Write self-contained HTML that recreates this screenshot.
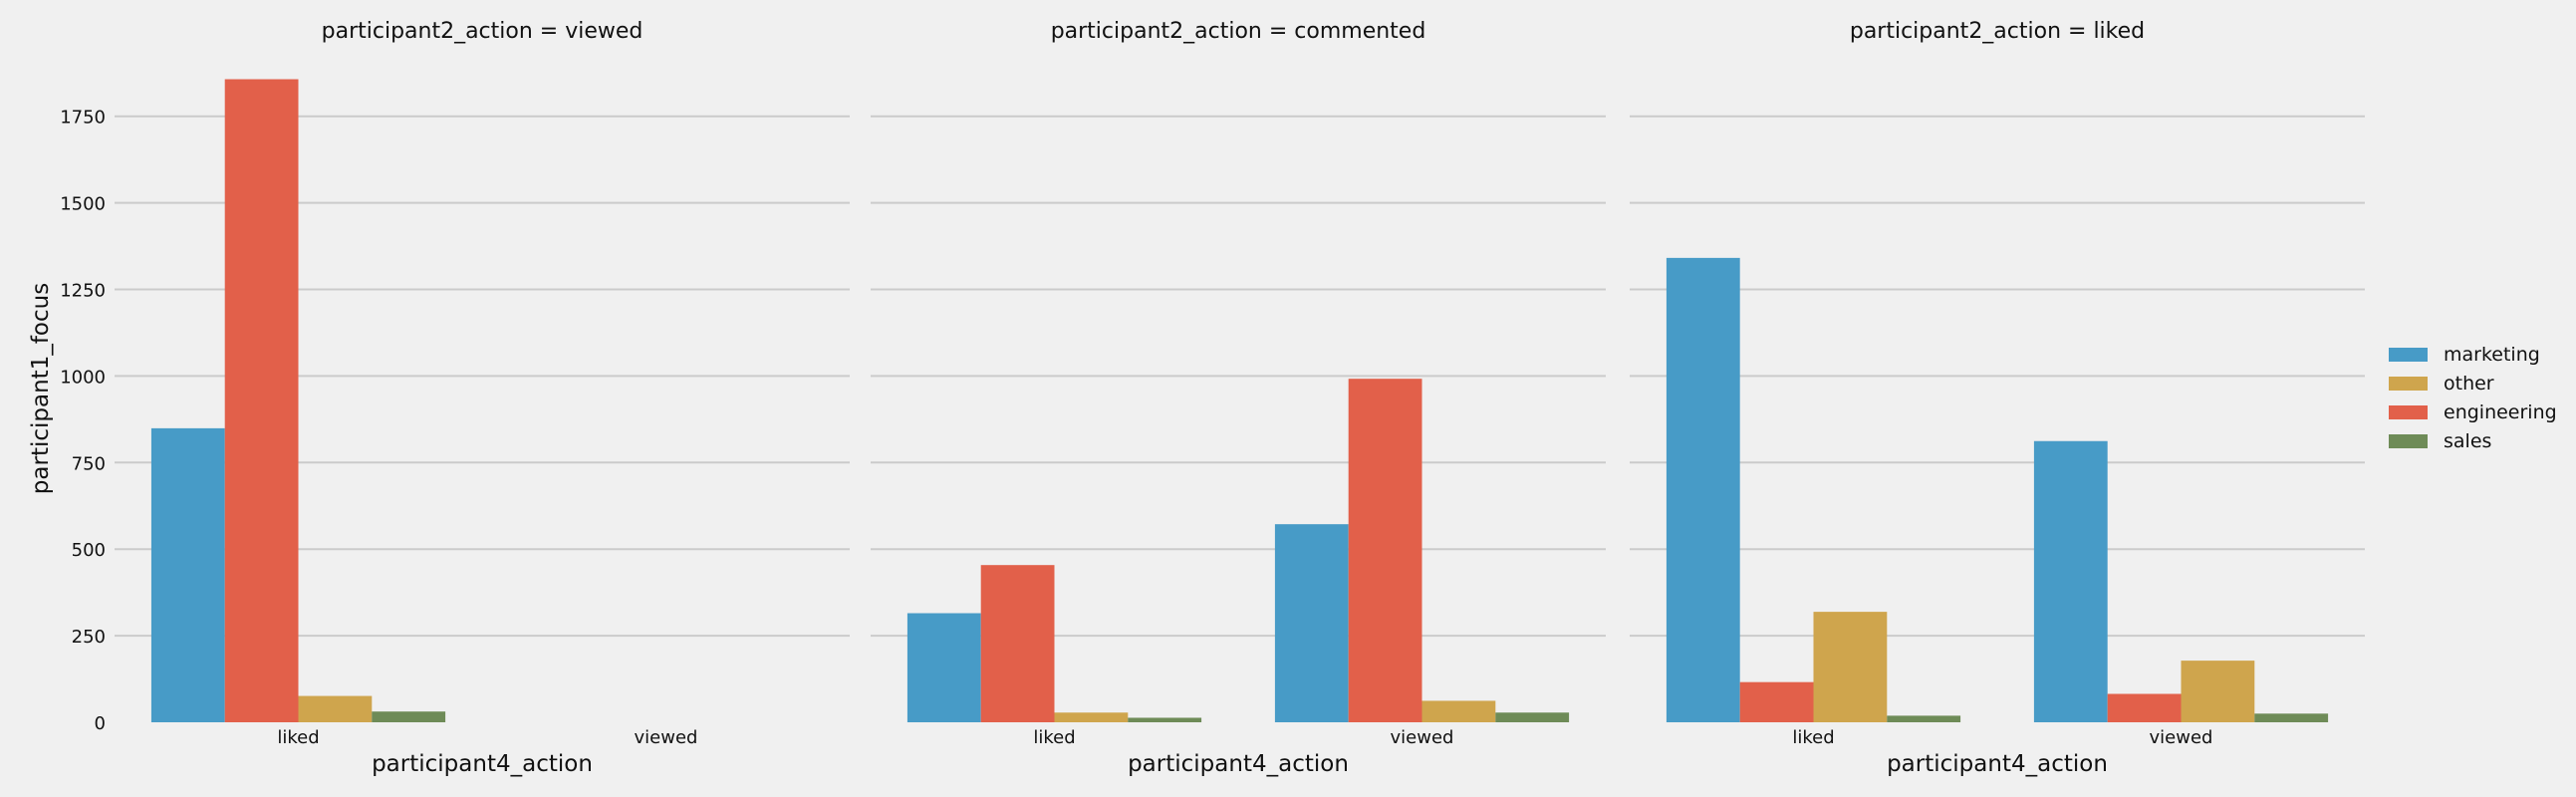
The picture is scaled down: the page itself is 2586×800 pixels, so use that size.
<!DOCTYPE html>
<html><head><meta charset="utf-8"><style>
html,body{margin:0;padding:0;background:#f0f0f0;}
svg{display:block;font-family:"DejaVu Sans","Liberation Sans",sans-serif;}
</style></head><body>
<svg id="chart" width="2586" height="800" viewBox="0 0 2586 800" xmlns="http://www.w3.org/2000/svg">
<rect x="0" y="0" width="2586" height="800" fill="#f0f0f0"/>
</svg>
<script>
const panelTitles = ["participant2_action = viewed","participant2_action = commented","participant2_action = liked"];
const categories = ["liked","viewed"];
const hues = ["marketing","engineering","other","sales"];
const legendOrder = ["marketing","other","engineering","sales"];
const yTicks = [0,250,500,750,1000,1250,1500,1750];
// values[panel][hue] per category
const viewedMarketing = [849, 0];
const viewedEngineering = [1857, 0];
const viewedOther = [76, 0];
const viewedSales = [31, 0];
const commentedMarketing = [315, 572];
const commentedEngineering = [454, 992];
const commentedOther = [28, 62];
const commentedSales = [13, 28];
const likedMarketing = [1341, 812];
const likedEngineering = [116, 82];
const likedOther = [319, 178];
const likedSales = [19, 25];

const panelData = [
  [viewedMarketing, viewedEngineering, viewedOther, viewedSales],
  [commentedMarketing, commentedEngineering, commentedOther, commentedSales],
  [likedMarketing, likedEngineering, likedOther, likedSales]
];
const colors = {marketing:"#479bc7", engineering:"#e2604a", other:"#cfa54d", sales:"#6e8b57"};
const NS = "http://www.w3.org/2000/svg";
const svg = document.getElementById("chart");
const panelLeft = [115, 874, 1636];
const panelW = 738;
const y0 = 725, pxPerUnit = 86.9/250;
function yScale(v){ return y0 - v*pxPerUnit; }
function mk(tag, attrs, text){
  const e = document.createElementNS(NS, tag);
  for (const k in attrs) e.setAttribute(k, attrs[k]);
  if (text !== undefined) e.textContent = text;
  svg.appendChild(e);
  return e;
}
panelTitles.forEach((title, p) => {
  const L = panelLeft[p];
  const catW = panelW / categories.length;
  yTicks.forEach(t => {
    if (t === 0) return;
    const g = mk("line", {x1:L, x2:L+panelW, y1:yScale(t), y2:yScale(t), stroke:"#cbcbcb", "stroke-width":2});
    
    
  });
  const tt = mk("text", {x:L+panelW/2, y:38, "text-anchor":"middle", "font-size":22, fill:"#111"}, title);
  
  
  categories.forEach((c, ci) => {
    const cx = L + catW*(ci+0.5);
    const groupW = catW*0.8;
    const bw = groupW / hues.length;
    hues.forEach((h, hi) => {
      const v = panelData[p][hi][ci];
      if (!v) return;
      const r = mk("rect", {x:cx - groupW/2 + hi*bw, y:yScale(v), width:bw, height:y0 - yScale(v), fill:colors[h]});
      
      
    });
    const tl = mk("text", {x:cx, y:746, "text-anchor":"middle", "font-size":18, fill:"#111"}, c);
    
    
  });
  const xl = mk("text", {x:L+panelW/2, y:774, "text-anchor":"middle", "font-size":23, fill:"#111"}, "participant4_action");
  
  
});
yTicks.forEach(t => {
  const l = mk("text", {x:106, y:yScale(t)+7, "text-anchor":"end", "font-size":18, fill:"#111"}, String(t));
  
  
});
const yl = mk("text", {x:0, y:0, transform:"translate(48,390) rotate(-90)", "text-anchor":"middle", "font-size":23, fill:"#111"}, "participant1_focus");


legendOrder.forEach((h, i) => {
  const y = 349 + i*29;
  const s = mk("rect", {x:2398, y:y, width:39, height:14, fill:colors[h]});
  
  
  const t = mk("text", {x:2453, y:y+13, "font-size":19, fill:"#111"}, h);
  
  
});
</script>
</body></html>
